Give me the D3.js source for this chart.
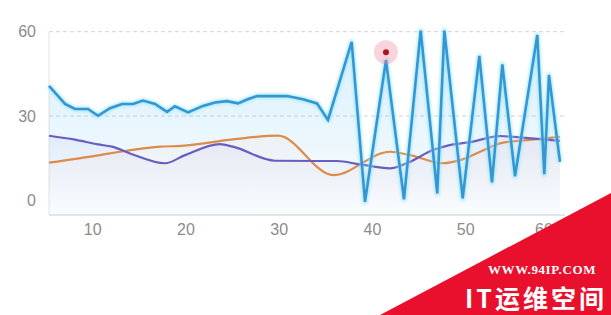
<!DOCTYPE html>
<html>
<head>
<meta charset="utf-8">
<script src="https://cdn.jsdelivr.net/npm/d3@7/dist/d3.min.js"></script>
<style>
  html, body { margin: 0; padding: 0; background: #fff; }
  svg { display: block; }
</style>
</head>
<body>
<svg id="chart" width="611" height="315"></svg>
<script>
// Series: x positions and values
const blueX = [5.36, 7.08, 8.15, 9.54, 10.62, 11.9, 13.19, 14.37, 15.44, 16.73, 18.02, 18.87, 20.27,
  21.88, 23.16, 24.45, 25.63, 26.6, 27.67, 30.89, 32.6, 34.1, 35.28, 37.82, 39.25, 41.5, 43.43,
  45.22, 47.0, 47.76, 49.73, 51.51, 52.87, 53.98, 55.34, 57.73, 58.48, 58.98, 60.16];
const blueY = [40.7, 34.3, 32.5, 32.5, 30.1, 32.8, 34.3, 34.3, 35.5, 34.3, 31.5, 33.5, 31.3,
  33.6, 34.8, 35.3, 34.5, 35.9, 37.1, 37.1, 36.0, 34.5, 28.6, 56.4, -0.5, 49.9, 0.4,
  60.4, 2.5, 60.4, 0.7, 51.4, 6.4, 48.4, 8.6, 58.8, 9.3, 44.6, 13.7];

const purpleX = [5.36, 8.15, 10.62, 12.12, 14.05, 17.8, 19.95, 23.7, 25.09, 29.6, 34.1, 36.22,
  38.71, 41.93, 43.72, 46.54, 48.01, 50.83, 53.73, 55.87, 60.16];
const purpleY = [23.0, 21.6, 19.9, 19.1, 16.7, 13.2, 16.1, 20.0, 19.1, 14.1, 14.0, 14.0,
  12.8, 11.4, 13.2, 17.9, 19.4, 20.9, 22.9, 22.4, 21.2];

const orangeX = [5.36, 10.83, 12.97, 17.27, 19.59, 25.09, 29.92, 35.85, 41.93, 44.07, 47.65,
  49.44, 51.59, 53.73, 56.59, 60.16];
const orangeY = [13.4, 16.1, 17.3, 19.1, 19.4, 21.7, 23.0, 9.0, 17.3, 16.1, 13.2,
  14.3, 17.3, 20.3, 21.4, 22.6];

// Highlighted point
const focusX = [41.5];
const focusY = [52.7];

const xTicks = [10, 20, 30, 40, 50, 60];
const yTicks = [0, 30, 60];
const gridTicks = [30, 60];

const svg = d3.select("#chart");
const plotL = 49, plotR = 565, plotT = 31.7, plotB = 215;

const x = d3.scaleLinear().domain([5.36, 60.7]).range([plotL, plotR]);
const y = d3.scaleLinear().domain([-5.2, 60]).range([plotB, plotT]);

const defs = svg.append("defs");
function grad(id, color, o1, o2) {
  const g = defs.append("linearGradient").attr("id", id)
    .attr("x1", 0).attr("y1", 0).attr("x2", 0).attr("y2", 1);
  g.append("stop").attr("offset", "0%").attr("stop-color", color).attr("stop-opacity", o1);
  g.append("stop").attr("offset", "100%").attr("stop-color", color).attr("stop-opacity", o2);
}
grad("gBlue", "#56bcf0", 0.24, 0.03);
grad("gPurple", "#8f80dc", 0.09, 0.0);
grad("gOrange", "#f2a47a", 0.07, 0.0);

const glow = defs.append("filter").attr("id", "glow")
  .attr("x", "-10%").attr("y", "-10%").attr("width", "120%").attr("height", "120%");
glow.append("feGaussianBlur").attr("stdDeviation", 1.6);

// grid
svg.append("g").selectAll("line").data(gridTicks).join("line")
  .attr("x1", plotL).attr("x2", plotR)
  .attr("y1", d => y(d)).attr("y2", d => y(d))
  .attr("stroke", "#cfd3d8").attr("stroke-width", 1).attr("stroke-dasharray", "4,3");

// axes lines
svg.append("line").attr("x1", plotL).attr("x2", plotL).attr("y1", plotT).attr("y2", plotB)
  .attr("stroke", "#e3e3e3");
svg.append("line").attr("x1", plotL).attr("x2", plotR).attr("y1", plotB).attr("y2", plotB)
  .attr("stroke", "#dedede").attr("stroke-width", 1.5);

// axis labels
const yAxis = d3.axisLeft(y).tickValues(yTicks).tickSize(0).tickPadding(13);
const yg = svg.append("g").attr("transform", `translate(${plotL},0)`).call(yAxis);
yg.select(".domain").remove();
yg.selectAll("text").attr("fill", "#8c8c8c").attr("font-size", 16)
  .attr("font-family", "Liberation Sans, Arial, sans-serif");

const xAxis = d3.axisBottom(x).tickValues(xTicks).tickSize(0).tickPadding(9);
const xg = svg.append("g").attr("transform", `translate(0,${plotB})`).call(xAxis);
xg.select(".domain").remove();
xg.selectAll("text").attr("fill", "#8c8c8c").attr("font-size", 16)
  .attr("font-family", "Liberation Sans, Arial, sans-serif")
  // the last label is pulled inward so it stays inside the chart edge
  .attr("dx", (d, i, n) => i === n.length - 1 ? -15 : 0);

function series(xs, ys) { return xs.map((v, i) => [v, ys[i]]); }
const blue = series(blueX, blueY);
const purple = series(purpleX, purpleY);
const orange = series(orangeX, orangeY);

const areaLin = d3.area().x(d => x(d[0])).y0(plotB).y1(d => y(d[1]));
const areaSm = d3.area().x(d => x(d[0])).y0(plotB).y1(d => y(d[1])).curve(d3.curveMonotoneX);
const lineLin = d3.line().x(d => x(d[0])).y(d => y(d[1]));
const lineSm = d3.line().x(d => x(d[0])).y(d => y(d[1])).curve(d3.curveMonotoneX);

svg.append("path").attr("d", areaLin(blue)).attr("fill", "url(#gBlue)");
svg.append("path").attr("d", areaSm(purple)).attr("fill", "url(#gPurple)");
svg.append("path").attr("d", areaSm(orange)).attr("fill", "url(#gOrange)");

svg.append("path").attr("d", lineSm(orange)).attr("fill", "none")
  .attr("stroke", "#de8a48").attr("stroke-width", 2.2);
svg.append("path").attr("d", lineSm(purple)).attr("fill", "none")
  .attr("stroke", "#6a5cc0").attr("stroke-width", 2.2);

svg.append("path").attr("d", lineLin(blue)).attr("fill", "none")
  .attr("stroke", "#8fe3fa").attr("stroke-width", 5).attr("stroke-opacity", 0.7)
  .attr("stroke-linejoin", "round").attr("filter", "url(#glow)");
svg.append("path").attr("d", lineLin(blue)).attr("fill", "none")
  .attr("stroke", "#3596d4").attr("stroke-width", 2.6).attr("stroke-linejoin", "miter");

// highlighted point
const fp = series(focusX, focusY);
svg.append("g").selectAll("circle.halo").data(fp).join("circle")
  .attr("cx", d => x(d[0])).attr("cy", d => y(d[1])).attr("r", 12)
  .attr("fill", "#ec7d98").attr("fill-opacity", 0.33);
svg.append("g").selectAll("circle.dot").data(fp).join("circle")
  .attr("cx", d => x(d[0])).attr("cy", d => y(d[1])).attr("r", 3)
  .attr("fill", "#a8141f");

// corner badge
svg.append("path").attr("d", "M380,315 L611,193 L611,315 Z").attr("fill", "#e8102c");
svg.append("text").attr("x", 542).attr("y", 274).attr("text-anchor", "middle")
  .attr("fill", "#fff").attr("font-size", 13).attr("font-weight", "bold")
  .attr("letter-spacing", 0.6)
  .attr("font-family", "Liberation Serif, DejaVu Serif, serif").text("WWW.94IP.COM");
svg.append("text").attr("x", 465).attr("y", 308)
  .attr("fill", "#fff").attr("font-size", 25).attr("font-weight", "bold")
  .attr("letter-spacing", 3)
  .attr("font-family", "Noto Sans CJK SC, sans-serif").text("IT运维空间");
</script>
</body>
</html>
